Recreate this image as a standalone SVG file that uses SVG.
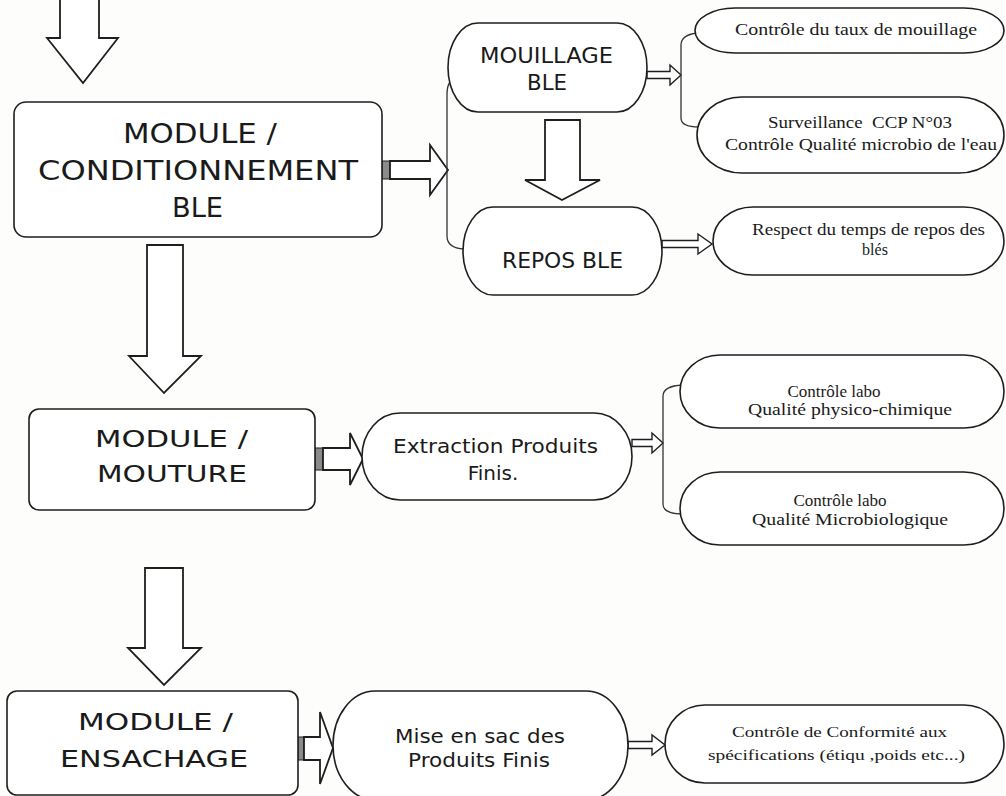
<svg xmlns="http://www.w3.org/2000/svg" width="1006" height="796" viewBox="0 0 1006 796">
<style>
.bg{fill:#fdfdfc}
.box{fill:#fff;stroke:#1e1e1e;stroke-width:1.6}
.arr{fill:#fff;stroke:#1e1e1e;stroke-width:1.8;stroke-linejoin:miter}
.sarr{fill:#fff;stroke:#1e1e1e;stroke-width:1.4}
.brk{fill:none;stroke:#333;stroke-width:1.3}
.mk{fill:#8a8a8a;stroke:#1e1e1e;stroke-width:1}
.h{font-family:"DejaVu Sans",sans-serif;fill:#1a1a1a}
.s{font-family:"Liberation Serif",serif;fill:#1a1a1a}
</style>
<rect class="bg" x="0" y="0" width="1006" height="796"/>

<g id="connectors">
  <polygon class="arr" points="60,-3 99,-3 99,38 118,38 83,83 47,38 60,38"/>
  <rect class="mk" x="382" y="161" width="8" height="18"/>
  <polygon class="arr" points="390,161 430,161 430,145 448,170 430,195 430,179 390,179"/>
  <path class="brk" d="M450,82 Q447,86 447,95 V236 Q447,248 464,249"/>
  <polygon class="arr" points="545,120 580,120 580,180 600,180 562,200 525,180 545,180"/>
  <polygon class="sarr" points="647,71.5 670,71.5 670,65 681,75 670,85 670,78.5 647,78.5"/>
  <path class="brk" d="M697,33 Q681,35 681,45 V118 Q681,127 699,127"/>
  <polygon class="sarr" points="662,240.5 698,240.5 698,234 712,244 698,254 698,247.5 662,247.5"/>
  <polygon class="arr" points="147,245 183,245 183,356 201,356 164,393 129,356 147,356"/>
  <rect class="mk" x="315" y="448" width="8" height="22"/>
  <polygon class="arr" points="323,448 350,448 350,433 363,459 350,485 350,470 323,470"/>
  <polygon class="sarr" points="632,439.5 652,439.5 652,433 663,443 652,453 652,446.5 632,446.5"/>
  <path class="brk" d="M683,385 Q663,386 663,396 V504 Q663,514 683,514"/>
  <polygon class="arr" points="145,568 183,568 183,648 201,648 164,685 128,648 145,648"/>
  <rect class="mk" x="298" y="737" width="6" height="23"/>
  <polygon class="arr" points="304,737 320,737 320,712 333,748 320,784 320,760 304,760"/>
  <polygon class="sarr" points="628,741.5 652,741.5 652,735 665,745 652,755 652,748.5 628,748.5"/>
</g>

<g id="module-conditionnement">
  <rect class="box" x="14" y="102" width="368" height="135" rx="12"/>
  <text class="h" font-size="27" x="123" y="143" textLength="154" lengthAdjust="spacingAndGlyphs">MODULE /</text>
  <text class="h" font-size="27" x="38" y="180" textLength="320" lengthAdjust="spacingAndGlyphs">CONDITIONNEMENT</text>
  <text class="h" font-size="27" x="172" y="217" textLength="51" lengthAdjust="spacingAndGlyphs">BLE</text>
</g>

<g id="mouillage-ble">
  <path class="box" d="M478,23 H617 A30 44.5 0 0 1 617,112 H478 A30 44.5 0 0 1 478,23 Z"/>
  <text class="h" font-size="21" x="480" y="63" textLength="133" lengthAdjust="spacingAndGlyphs">MOUILLAGE</text>
  <text class="h" font-size="21" x="527" y="90" textLength="40" lengthAdjust="spacingAndGlyphs">BLE</text>
</g>

<g id="repos-ble">
  <path class="box" d="M493,207 H632 A30 44 0 0 1 632,295 H493 A30 44 0 0 1 493,207 Z"/>
  <text class="h" font-size="21" x="502" y="268" textLength="121" lengthAdjust="spacingAndGlyphs">REPOS BLE</text>
</g>

<g id="ctrl-taux-mouillage">
  <path class="box" d="M735,8 H964 A40 22.5 0 0 1 964,53 H735 A40 22.5 0 0 1 735,8 Z"/>
  <text class="s" font-size="16" x="735" y="35" textLength="242" lengthAdjust="spacingAndGlyphs">Contrôle du taux de mouillage</text>
</g>

<g id="surveillance-ccp">
  <path class="box" d="M742,97 H959 A45 38 0 0 1 959,173 H742 A45 38 0 0 1 742,97 Z"/>
  <text class="s" font-size="17" x="768" y="128" textLength="184" lengthAdjust="spacingAndGlyphs" style="white-space:pre">Surveillance  CCP N°03</text>
  <text class="s" font-size="17" x="725" y="150" textLength="272" lengthAdjust="spacingAndGlyphs">Contrôle Qualité microbio de l'eau</text>
</g>

<g id="respect-repos">
  <path class="box" d="M753,207 H964 A40 34 0 0 1 964,275 H753 A40 34 0 0 1 753,207 Z"/>
  <text class="s" font-size="16" x="752" y="235" textLength="233" lengthAdjust="spacingAndGlyphs">Respect du temps de repos des</text>
  <text class="s" font-size="16" x="875" y="255" text-anchor="middle">blés</text>
</g>

<g id="module-mouture">
  <rect class="box" x="29" y="409" width="286" height="101" rx="10"/>
  <text class="h" font-size="23" x="95" y="447" textLength="153" lengthAdjust="spacingAndGlyphs">MODULE /</text>
  <text class="h" font-size="23" x="97" y="482" textLength="150" lengthAdjust="spacingAndGlyphs">MOUTURE</text>
</g>

<g id="extraction">
  <path class="box" d="M400,413 H594 A38 43.5 0 0 1 594,500 H400 A38 43.5 0 0 1 400,413 Z"/>
  <text class="h" font-size="20" x="393" y="453" textLength="205" lengthAdjust="spacingAndGlyphs">Extraction Produits</text>
  <text class="h" font-size="20" x="493" y="480" text-anchor="middle">Finis.</text>
</g>

<g id="labo-physico">
  <path class="box" d="M720,355 H964 A40 36.5 0 0 1 964,428 H720 A40 36.5 0 0 1 720,355 Z"/>
  <text class="s" font-size="17" x="834" y="397" text-anchor="middle">Contrôle labo</text>
  <text class="s" font-size="17" x="748" y="415" textLength="204" lengthAdjust="spacingAndGlyphs">Qualité physico-chimique</text>
</g>

<g id="labo-micro">
  <path class="box" d="M720,472 H964 A40 36.5 0 0 1 964,545 H720 A40 36.5 0 0 1 720,472 Z"/>
  <text class="s" font-size="17" x="840" y="506" text-anchor="middle">Contrôle labo</text>
  <text class="s" font-size="17" x="752" y="525" textLength="196" lengthAdjust="spacingAndGlyphs">Qualité Microbiologique</text>
</g>

<g id="module-ensachage">
  <rect class="box" x="7" y="691" width="291" height="104" rx="10"/>
  <text class="h" font-size="23" x="78" y="730" textLength="155" lengthAdjust="spacingAndGlyphs">MODULE /</text>
  <text class="h" font-size="23" x="60" y="767" textLength="188" lengthAdjust="spacingAndGlyphs">ENSACHAGE</text>
</g>

<g id="mise-en-sac">
  <path class="box" d="M375,691 H586 A42 54.5 0 0 1 586,800 H375 A42 54.5 0 0 1 375,691 Z"/>
  <text class="h" font-size="19" x="395" y="743" textLength="170" lengthAdjust="spacingAndGlyphs">Mise en sac des</text>
  <text class="h" font-size="19" x="408" y="767" textLength="142" lengthAdjust="spacingAndGlyphs">Produits Finis</text>
</g>

<g id="conformite">
  <path class="box" d="M705,705 H964 A40 39 0 0 1 964,783 H705 A40 39 0 0 1 705,705 Z"/>
  <text class="s" font-size="15" x="732" y="737" textLength="215" lengthAdjust="spacingAndGlyphs">Contrôle de Conformité aux</text>
  <text class="s" font-size="15" x="708" y="760" textLength="257" lengthAdjust="spacingAndGlyphs">spécifications (étiqu ,poids etc...)</text>
</g>
</svg>
